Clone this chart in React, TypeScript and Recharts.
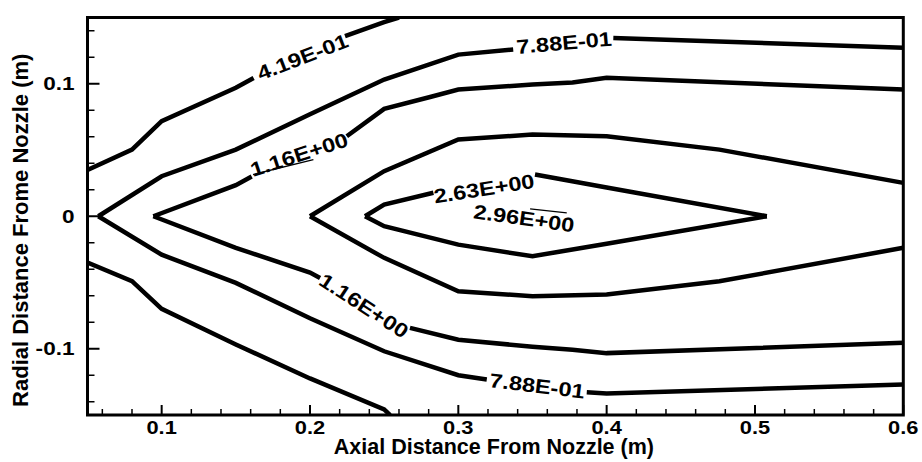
import { ComposedChart, Line, Scatter, XAxis, YAxis, ReferenceArea } from "recharts";

type Pt = { x: number; y: number };

// axis ticks
const X_MAJOR = [0.1, 0.2, 0.3, 0.4, 0.5, 0.6];
const X_MINOR = [0.06, 0.08, 0.12, 0.14, 0.16, 0.18, 0.22, 0.24, 0.26, 0.28, 0.32, 0.34, 0.36, 0.38, 0.42, 0.44, 0.46, 0.48, 0.52, 0.54, 0.56, 0.58];
const Y_MAJOR = [-0.1, 0, 0.1];
const Y_MINOR = [-0.14, -0.12, -0.08, -0.06, -0.04, -0.02, 0.02, 0.04, 0.06, 0.08, 0.12, 0.14];

// contour 4.19E-01
const c419TopA: Pt[] = [{ x: 0.05, y: 0.035 }, { x: 0.08, y: 0.0503 }, { x: 0.1, y: 0.0717 }, { x: 0.15, y: 0.097 }, { x: 0.162, y: 0.1043 }];
const c419TopB: Pt[] = [{ x: 0.2236, y: 0.1359 }, { x: 0.25, y: 0.1465 }, { x: 0.26, y: 0.15 }];
const c419Bot: Pt[] = [{ x: 0.05, y: -0.035 }, { x: 0.08, y: -0.049 }, { x: 0.1, y: -0.0699 }, { x: 0.15, y: -0.0968 }, { x: 0.2, y: -0.1224 }, { x: 0.25, y: -0.1457 }, { x: 0.254, y: -0.15 }];

// contour 7.88E-01
const c788TopA: Pt[] = [{ x: 0.0573, y: 0 }, { x: 0.1, y: 0.0302 }, { x: 0.15, y: 0.0503 }, { x: 0.2, y: 0.077 }, { x: 0.25, y: 0.1032 }, { x: 0.3, y: 0.122 }, { x: 0.337, y: 0.1258 }];
const c788TopB: Pt[] = [{ x: 0.4045, y: 0.1346 }, { x: 0.6, y: 0.1271 }];
const c788BotA: Pt[] = [{ x: 0.0573, y: 0 }, { x: 0.1, y: -0.029 }, { x: 0.15, y: -0.0503 }, { x: 0.2, y: -0.077 }, { x: 0.25, y: -0.1019 }, { x: 0.3, y: -0.12 }, { x: 0.3192, y: -0.1232 }];
const c788BotB: Pt[] = [{ x: 0.3866, y: -0.1328 }, { x: 0.4, y: -0.1338 }, { x: 0.6, y: -0.127 }];

// contour 1.16E+00
const c116TopA: Pt[] = [{ x: 0.0944, y: 0 }, { x: 0.15, y: 0.0235 }, { x: 0.1607, y: 0.03 }];
const c116TopThin: Pt[] = [{ x: 0.1616, y: 0.0315 }, { x: 0.2023, y: 0.0428 }];
const c116TopB: Pt[] = [{ x: 0.2248, y: 0.0604 }, { x: 0.25, y: 0.081 }, { x: 0.281, y: 0.09 }, { x: 0.3, y: 0.0956 }, { x: 0.35, y: 0.0994 }, { x: 0.377, y: 0.1009 }, { x: 0.4, y: 0.1045 }, { x: 0.6, y: 0.0956 }];
const c116BotA: Pt[] = [{ x: 0.0944, y: 0 }, { x: 0.15, y: -0.0238 }, { x: 0.2, y: -0.0425 }, { x: 0.2068, y: -0.0466 }];
const c116BotB: Pt[] = [{ x: 0.2674, y: -0.0842 }, { x: 0.3, y: -0.0932 }, { x: 0.35, y: -0.0985 }, { x: 0.377, y: -0.1008 }, { x: 0.4, y: -0.1033 }, { x: 0.6, y: -0.0955 }];

// unlabelled contour between 1.16 and 2.63
const cMidTop: Pt[] = [{ x: 0.2, y: 0 }, { x: 0.25, y: 0.034 }, { x: 0.3, y: 0.0579 }, { x: 0.35, y: 0.0617 }, { x: 0.4, y: 0.0604 }, { x: 0.476, y: 0.0503 }, { x: 0.6, y: 0.0252 }];
const cMidBot: Pt[] = [{ x: 0.2, y: 0 }, { x: 0.25, y: -0.0314 }, { x: 0.3, y: -0.0566 }, { x: 0.35, y: -0.0604 }, { x: 0.4, y: -0.0591 }, { x: 0.476, y: -0.0491 }, { x: 0.6, y: -0.0238 }];

// contour 2.63E+00
const c263TopA: Pt[] = [{ x: 0.2371, y: 0 }, { x: 0.25, y: 0.0088 }, { x: 0.2832, y: 0.0177 }];
const c263TopB: Pt[] = [{ x: 0.3517, y: 0.0315 }, { x: 0.4, y: 0.0217 }, { x: 0.508, y: 0 }];
const c263Bot: Pt[] = [{ x: 0.2371, y: 0 }, { x: 0.25, y: -0.0075 }, { x: 0.3, y: -0.0214 }, { x: 0.35, y: -0.0302 }, { x: 0.4, y: -0.0207 }, { x: 0.508, y: 0 }];

// contour 2.96E+00 (only a sliver shows)
const c296: Pt[] = [{ x: 0.3484, y: 0.0056 }, { x: 0.3731, y: 0.0026 }];

const LABELS = [
  { x: 0.195, y: 0.1203, text: "4.19E-01" },
  { x: 0.3713, y: 0.1311, text: "7.88E-01" },
  { x: 0.1926, y: 0.0466, text: "1.16E+00" },
  { x: 0.3173, y: 0.0209, text: "2.63E+00" },
  { x: 0.3443, y: -0.0014, text: "2.96E+00" },
  { x: 0.2364, y: -0.0674, text: "1.16E+00" },
  { x: 0.3531, y: -0.1278, text: "7.88E-01" },
];

const THICK = [c419TopA, c419TopB, c419Bot, c788TopA, c788TopB, c788BotA, c788BotB, c116TopA, c116TopB, c116BotA, c116BotB, cMidTop, cMidBot, c263TopA, c263TopB, c263Bot];
const THIN = [c116TopThin, c296];

const LABEL_ANGLES = [-21, -5, -18, -9, 8, 33, 7];
const FONT = { fontFamily: '"Liberation Sans", Arial, Helvetica, sans-serif', fontWeight: 700 };

const isMajor = (list: number[], v: number) => list.some((m) => Math.abs(m - v) < 1e-9);

const XTick = (props: any) => {
  const { x, y, payload } = props;
  const major = isMajor(X_MAJOR, payload.value);
  return (
    <g>
      <line x1={x} y1={y} x2={x} y2={y - (major ? 10 : 6)} stroke="#000" strokeWidth={major ? 2 : 1.5} />
      {major && (
        <text transform={`translate(${x},${y + 19.3}) scale(1.25,1)`} textAnchor="middle" fontSize={17.5} fill="#000" style={FONT}>
          {String(payload.value)}
        </text>
      )}
    </g>
  );
};

const YTick = (props: any) => {
  const { x, y, payload } = props;
  const major = isMajor(Y_MAJOR, payload.value);
  return (
    <g>
      <line x1={x} y1={y} x2={x + (major ? 12 : 7)} y2={y} stroke="#000" strokeWidth={major ? 2 : 1.5} />
      {major && (
        <text transform={`translate(${x - 13},${y + 6.6}) scale(1.22,1)`} textAnchor="end" fontSize={18.5} fill="#000" style={FONT}>
          {String(payload.value)}
        </text>
      )}
    </g>
  );
};

const ContourLabel = (props: any) => {
  const { cx, cy, payload } = props;
  const i = LABELS.findIndex((l) => l.x === payload.x && l.y === payload.y);
  const a = LABEL_ANGLES[i] ?? 0;
  return (
    <text transform={`translate(${cx},${cy}) rotate(${a}) scale(1.18,1)`} textAnchor="middle" dy="0.36em" fontSize={20} fill="#000" style={FONT}>
      {payload.text}
    </text>
  );
};

const XTitle = (props: any) => {
  const vb = props.viewBox;
  return (
    <text x={vb.x + vb.width / 2 - 1.5} y={vb.y + 39} textAnchor="middle" fontSize={21.5} fill="#000" style={FONT}>
      Axial Distance From Nozzle (m)
    </text>
  );
};

const YTitle = (props: any) => {
  const vb = props.viewBox;
  return (
    <text transform={`translate(${vb.x + 28},${vb.y + vb.height / 2 + 14}) rotate(-90)`} textAnchor="middle" fontSize={22} fill="#000" style={FONT}>
      Radial Distance Frome Nozzle (m)
    </text>
  );
};

export default function App() {
  return (
    <div style={{ position: "absolute", left: 0, top: 0 }}>
      <ComposedChart width={922} height={462} margin={{ top: 17.5, right: 18.7, left: 0, bottom: 7 }}>
        <XAxis
          type="number"
          dataKey="x"
          domain={[0.05, 0.6]}
          allowDataOverflow
          ticks={[...X_MAJOR, ...X_MINOR].sort((a, b) => a - b)}
          interval={0}
          tick={<XTick />}
          tickLine={false}
          axisLine={false}
          tickSize={0}
          tickMargin={0}
          height={40}
          label={XTitle}
        />
        <YAxis
          type="number"
          dataKey="y"
          domain={[-0.15, 0.15]}
          allowDataOverflow
          ticks={[...Y_MAJOR, ...Y_MINOR].sort((a, b) => a - b)}
          interval={0}
          tick={<YTick />}
          tickLine={false}
          axisLine={false}
          tickSize={0}
          tickMargin={0}
          width={87.5}
          label={YTitle}
        />
        {THICK.map((d, i) => (
          <Line key={`t${i}`} data={d} dataKey="y" type="linear" stroke="#000" strokeWidth={4.5} dot={false} activeDot={false} isAnimationActive={false} />
        ))}
        {THIN.map((d, i) => (
          <Line key={`n${i}`} data={d} dataKey="y" type="linear" stroke="#000" strokeWidth={1.3} dot={false} activeDot={false} isAnimationActive={false} />
        ))}
        <Scatter data={LABELS} dataKey="y" shape={ContourLabel} isAnimationActive={false} />
        <ReferenceArea x1={0.05} x2={0.6} y1={-0.15} y2={0.15} fill="none" fillOpacity={0} stroke="#000" strokeWidth={3} />
      </ComposedChart>
    </div>
  );
}
